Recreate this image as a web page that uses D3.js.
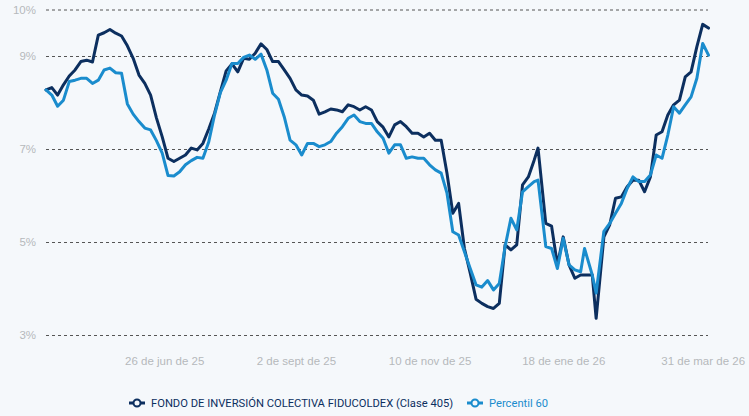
<!DOCTYPE html>
<html>
<head>
<meta charset="utf-8">
<script src="https://cdn.jsdelivr.net/npm/d3@7"></script>
<style>
  html, body { margin: 0; padding: 0; background: #f5f8fb; }
  svg { display: block; font-family: Roboto, "Noto Sans", sans-serif; }
</style>
</head>
<body>
<div id="chart"></div>
<script>
// fechas (aprox. cada 3 dias)
var dates = [
  "2025-04-26","2025-04-29","2025-05-02","2025-05-05","2025-05-08","2025-05-11","2025-05-14","2025-05-17","2025-05-20","2025-05-23",
  "2025-05-26","2025-05-29","2025-06-01","2025-06-04","2025-06-07","2025-06-10","2025-06-13","2025-06-16","2025-06-19","2025-06-22",
  "2025-06-25","2025-06-28","2025-07-01","2025-07-04","2025-07-07","2025-07-10","2025-07-13","2025-07-16","2025-07-19","2025-07-22",
  "2025-07-25","2025-07-28","2025-07-31","2025-08-03","2025-08-06","2025-08-09","2025-08-12","2025-08-15","2025-08-18","2025-08-21",
  "2025-08-24","2025-08-27","2025-08-30","2025-09-02","2025-09-05","2025-09-08","2025-09-11","2025-09-14","2025-09-17","2025-09-20",
  "2025-09-23","2025-09-26","2025-09-29","2025-10-02","2025-10-05","2025-10-08","2025-10-11","2025-10-14","2025-10-17","2025-10-20",
  "2025-10-23","2025-10-26","2025-10-29","2025-11-01","2025-11-04","2025-11-07","2025-11-10","2025-11-13","2025-11-16","2025-11-19",
  "2025-11-22","2025-11-25","2025-11-28","2025-12-01","2025-12-04","2025-12-07","2025-12-10","2025-12-13","2025-12-16","2025-12-19",
  "2025-12-22","2025-12-25","2025-12-28","2025-12-31","2026-01-03","2026-01-05","2026-01-09","2026-01-12","2026-01-15","2026-01-18",
  "2026-01-21","2026-01-24","2026-01-27","2026-01-29","2026-02-02","2026-02-04","2026-02-08","2026-02-11","2026-02-14","2026-02-17",
  "2026-02-20","2026-02-23","2026-02-26","2026-03-01","2026-03-04","2026-03-07","2026-03-10","2026-03-13","2026-03-16","2026-03-19",
  "2026-03-22","2026-03-25","2026-03-28","2026-03-31","2026-04-03"
];

// FONDO DE INVERSION COLECTIVA FIDUCOLDEX (Clase 405), rentabilidad %
var fondo = [
  8.27,8.32,8.16,8.38,8.57,8.70,8.88,8.91,8.87,9.45,
  9.50,9.57,9.49,9.43,9.22,8.95,8.59,8.41,8.16,7.67,
  7.26,6.80,6.73,6.80,6.87,7.02,6.98,7.12,7.43,7.77,
  8.23,8.68,8.83,8.66,8.95,8.93,9.06,9.26,9.14,8.88,
  8.88,8.70,8.52,8.27,8.16,8.14,8.05,7.75,7.80,7.86,
  7.84,7.80,7.95,7.91,7.84,7.91,7.84,7.59,7.47,7.26,
  7.52,7.59,7.48,7.34,7.34,7.26,7.34,7.19,7.19,6.48,
  5.62,5.83,4.86,4.33,3.77,3.68,3.61,3.57,3.68,4.94,
  4.83,4.94,6.23,6.40,6.76,7.02,5.40,5.34,4.51,5.11,
  4.51,4.22,4.29,4.29,4.29,3.36,5.11,5.37,5.94,5.97,
  6.19,6.33,6.33,6.08,6.40,7.30,7.37,7.73,7.95,8.05,
  8.55,8.66,9.20,9.68,9.60
];

// Percentil 60
var percentil = [
  8.27,8.16,7.92,8.05,8.45,8.48,8.52,8.52,8.41,8.48,
  8.70,8.74,8.64,8.63,7.97,7.75,7.59,7.45,7.41,7.18,
  6.91,6.43,6.42,6.51,6.66,6.75,6.82,6.80,7.15,7.73,
  8.21,8.48,8.84,8.84,8.97,9.02,8.93,9.04,8.70,8.20,
  8.07,7.69,7.19,7.09,6.87,7.12,7.12,7.05,7.09,7.16,
  7.34,7.48,7.66,7.73,7.59,7.55,7.55,7.37,7.23,6.91,
  7.09,7.09,6.80,6.83,6.80,6.80,6.66,6.55,6.48,6.05,
  5.22,5.15,4.79,4.43,4.08,4.03,4.17,3.97,4.11,4.90,
  5.51,5.26,6.08,6.19,6.30,6.33,4.90,4.86,4.43,5.08,
  4.51,4.40,4.36,4.86,4.29,3.90,5.23,5.40,5.62,5.83,
  6.15,6.40,6.30,6.30,6.44,6.87,6.80,7.30,7.91,7.77,
  7.95,8.12,8.52,9.27,9.02
];

var yTicks = [3, 5, 7, 9, 10];
var xTickDates = ["2025-06-26", "2025-09-02", "2025-11-10", "2026-01-18", "2026-03-31"];
var xTickLabels = ["26 de jun de 25", "2 de sept de 25", "10 de nov de 25", "18 de ene de 26", "31 de mar de 26"];

var seriesNames = ["FONDO DE INVERSIÓN COLECTIVA FIDUCOLDEX (Clase 405)", "Percentil 60"];
var seriesColors = ["#0c2f5f", "#1a8ccd"];

var w = 749, h = 416;
var parseDate = d3.timeParse("%Y-%m-%d");

var svg = d3.select("#chart").append("svg")
    .attr("width", w)
    .attr("height", h);

var x = d3.scaleTime()
    .domain([parseDate(dates[0]), parseDate(dates[dates.length - 1])])
    .range([46, 708.5]);

var y = d3.scaleLinear()
    .domain([3, 10])
    .range([335, 9.5]);

// grid + etiquetas eje y
var yAxis = d3.axisLeft(y)
    .tickValues(yTicks)
    .tickSize(-(708 - 46))
    .tickPadding(10)
    .tickFormat(function(d){ return d + "%"; });

var gy = svg.append("g")
    .attr("transform", "translate(46,0)")
    .call(yAxis);
gy.select(".domain").remove();
gy.selectAll(".tick line")
    .attr("stroke", "#555")
    .attr("stroke-width", 1)
    .attr("stroke-dasharray", "3,3");
gy.selectAll(".tick text")
    .attr("fill", "#b5b8bc")
    .style("font-size", "11.5px");

// eje x
var xAxis = d3.axisBottom(x)
    .tickValues(xTickDates.map(parseDate))
    .tickSize(0)
    .tickPadding(0)
    .tickFormat(function(d, i){ return xTickLabels[i]; });

var gx = svg.append("g")
    .attr("transform", "translate(0,357)")
    .call(xAxis);
gx.select(".domain").remove();
gx.selectAll(".tick text")
    .attr("fill", "#b5b8bc")
    .attr("dy", "0.71em")
    .style("font-size", "11.5px");

// lineas
var line = d3.line()
    .x(function(d){ return x(d.date); })
    .y(function(d){ return y(d.value); });

[fondo, percentil].forEach(function(values, k){
    var pts = values.map(function(v, i){ return { date: parseDate(dates[i]), value: v }; });
    svg.append("path")
        .datum(pts)
        .attr("fill", "none")
        .attr("stroke", seriesColors[k])
        .attr("stroke-width", 3)
        .attr("stroke-linejoin", "round")
        .attr("stroke-linecap", "round")
        .attr("d", line);
});

// leyenda
var legend = svg.append("g").attr("transform", "translate(0,403)");
var legendX = [129, 467];
seriesNames.forEach(function(name, k){
    var g = legend.append("g").attr("transform", "translate(" + legendX[k] + ",0)");
    g.append("line")
        .attr("x1", 0).attr("x2", 16)
        .attr("stroke", seriesColors[k])
        .attr("stroke-width", 3);
    g.append("circle")
        .attr("cx", 8).attr("r", 3.5)
        .attr("fill", "#f5f8fb")
        .attr("stroke", seriesColors[k])
        .attr("stroke-width", 2);
    g.append("text")
        .attr("x", 22)
        .attr("dy", "0.35em")
        .attr("fill", seriesColors[k])
        .style("font-size", "11.2px")
        .text(name);
});
</script>
</body>
</html>
